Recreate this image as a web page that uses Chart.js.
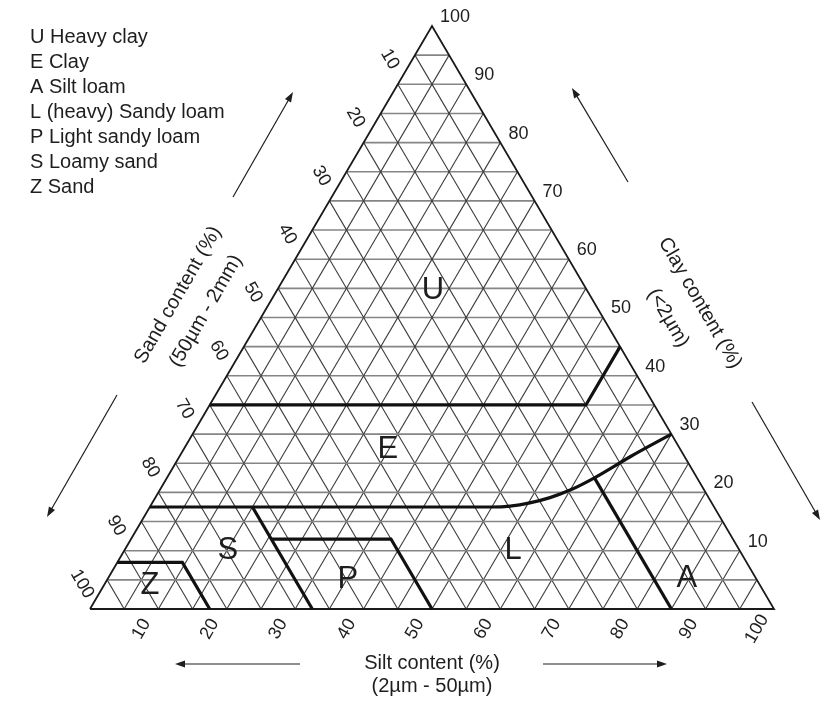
<!DOCTYPE html>
<html>
<head>
<meta charset="utf-8">
<script src="https://cdn.jsdelivr.net/npm/chart.js@4/dist/chart.umd.min.js"></script>
<style>
  body { margin: 0; background: #fff; }
</style>
</head>
<body>
<canvas id="soilChart" width="836" height="704"></canvas>
<script>
// grid every 5 %, labels every 10 %
const gridSteps = [5, 10, 15, 20, 25, 30, 35, 40, 45, 50, 55, 60, 65, 70, 75, 80, 85, 90, 95];
const tickValues = [10, 20, 30, 40, 50, 60, 70, 80, 90, 100];

const legendCodes = ['U', 'E', 'A', 'L', 'P', 'S', 'Z'];
const legendNames = ['Heavy clay', 'Clay', 'Silt loam', '(heavy) Sandy loam', 'Light sandy loam', 'Loamy sand', 'Sand'];

// class boundaries: clay % and silt % of each point
const heavyClayClay = [35, 35, 45];
const heavyClaySilt = [0, 55, 55];
const clayLoamClay = [17.5, 17.5, 17.65, 18.2, 19.1, 20.4, 22.5, 26.2, 30];
const clayLoamSilt = [0, 50, 52.6, 55.2, 57.7, 60.0, 62.5, 66.0, 70];
const loamSiltClay = [22.5, 0];
const loamSiltSilt = [62.5, 85];
const sandLoamClay = [17.5, 0];
const sandLoamSilt = [15, 32.5];
const lightLoamClay = [12, 12, 0];
const lightLoamSilt = [20.5, 38, 50];
const sandClay = [8, 8, 0];
const sandSilt = [0, 9.5, 17.5];

// where the class letters sit
const regionCodes = ['U', 'E', 'S', 'P', 'L', 'A', 'Z'];
const regionClay = [54.7, 27.3, 10.1, 5.0, 10.1, 5.3, 4.1];
const regionSilt = [22.8, 29.9, 15.1, 35.2, 56.8, 84.6, 6.7];

// ternary (clay, silt) -> chart value space
function tern(clay, silt) {
    return { x: silt + clay / 2, y: clay };
}

function lineSet(points, color, width, order, extra) {
    return Object.assign({
        data: points,
        showLine: true,
        borderColor: color,
        borderWidth: width,
        pointRadius: 0,
        fill: false,
        clip: false,
        order: order
    }, extra || {});
}

const datasets = [];

gridSteps.forEach(v => {
    datasets.push(lineSet([tern(v, 0), tern(v, 100 - v)], '#858585', 1.6, 3));
    datasets.push(lineSet([tern(0, v), tern(100 - v, v)], '#3c3c3c', 1.1, 3));
    datasets.push(lineSet([tern(0, 100 - v), tern(100 - v, 0)], '#3c3c3c', 1.1, 3));
});

datasets.push(lineSet([tern(0, 0), tern(0, 100), tern(100, 0), tern(0, 0)], '#1a1a1a', 1.8, 2));

const boundaries = [
    [heavyClayClay, heavyClaySilt],
    [loamSiltClay, loamSiltSilt],
    [sandLoamClay, sandLoamSilt],
    [lightLoamClay, lightLoamSilt],
    [sandClay, sandSilt]
];
boundaries.forEach(b => {
    datasets.push(lineSet(b[0].map((c, i) => tern(c, b[1][i])), '#111', 3.2, 1));
});
datasets.push(lineSet(clayLoamClay.map((c, i) => tern(c, clayLoamSilt[i])), '#111', 3.2, 1,
    { cubicInterpolationMode: 'monotone' }));

function drawText(ctx, text, x, y, angle, align) {
    ctx.save();
    ctx.translate(x, y);
    ctx.rotate(angle);
    ctx.textAlign = align || 'center';
    ctx.fillText(text, 0, 0);
    ctx.restore();
}

function drawArrow(ctx, x1, y1, x2, y2) {
    const a = Math.atan2(y2 - y1, x2 - x1);
    ctx.beginPath();
    ctx.moveTo(x1, y1);
    ctx.lineTo(x2 - 8 * Math.cos(a), y2 - 8 * Math.sin(a));
    ctx.stroke();
    ctx.beginPath();
    ctx.moveTo(x2, y2);
    ctx.lineTo(x2 - 10 * Math.cos(a) + 3.5 * Math.sin(a), y2 - 10 * Math.sin(a) - 3.5 * Math.cos(a));
    ctx.lineTo(x2 - 10 * Math.cos(a) - 3.5 * Math.sin(a), y2 - 10 * Math.sin(a) + 3.5 * Math.cos(a));
    ctx.closePath();
    ctx.fill();
}

const labelsPlugin = {
    id: 'soilLabels',
    afterDraw(chart) {
        const ctx = chart.ctx;
        const xs = chart.scales.x, ys = chart.scales.y;
        const px = (c, s) => {
            const p = tern(c, s);
            return [xs.getPixelForValue(p.x), ys.getPixelForValue(p.y)];
        };
        ctx.save();
        ctx.fillStyle = '#1e1e1e';
        ctx.strokeStyle = '#1e1e1e';
        ctx.textBaseline = 'middle';

        // tick labels
        ctx.font = '18px "Liberation Sans", Arial, sans-serif';
        tickValues.forEach(v => {
            let p = px(v, 100 - v);
            drawText(ctx, String(v), p[0] + 8, p[1] - 9, 0, 'left');
            p = px(100 - v, 0);
            drawText(ctx, String(v), p[0] - 8, p[1] - 25, Math.PI / 3);
            p = px(0, v);
            drawText(ctx, String(v), p[0] - 17, p[1] + 20, -Math.PI / 3);
        });

        // class letters
        ctx.font = '31px "Liberation Sans", Arial, sans-serif';
        regionCodes.forEach((t, i) => {
            const p = px(regionClay[i], regionSilt[i]);
            drawText(ctx, t, p[0], p[1], 0);
        });

        // axis titles
        ctx.font = '20px "Liberation Sans", Arial, sans-serif';
        drawText(ctx, 'Silt content (%)', 432, 663, 0);
        drawText(ctx, '(2µm - 50µm)', 432, 686, 0);
        drawText(ctx, 'Sand content (%)', 178, 295, -Math.PI / 3);
        drawText(ctx, '(50µm - 2mm)', 206, 311, -Math.PI / 3);
        drawText(ctx, 'Clay content (%)', 700, 303, Math.PI / 3);
        drawText(ctx, '(<2µm)', 668, 318, Math.PI / 3);

        // legend
        legendCodes.forEach((code, i) => {
            drawText(ctx, code + ' ' + legendNames[i], 30, 37 + i * 25, 0, 'left');
        });

        // direction arrows
        ctx.lineWidth = 1.2;
        drawArrow(ctx, 233, 197, 293, 92);
        drawArrow(ctx, 117, 395, 47, 517);
        drawArrow(ctx, 628, 182, 572, 88);
        drawArrow(ctx, 752, 402, 820, 520);
        drawArrow(ctx, 300, 664, 175, 664);
        drawArrow(ctx, 543, 664, 667, 664);
        ctx.restore();
    }
};

new Chart(document.getElementById('soilChart'), {
    type: 'scatter',
    data: { datasets: datasets },
    options: {
        responsive: false,
        animation: false,
        devicePixelRatio: 1,
        layout: { padding: { left: 90, right: 62, top: 26, bottom: 95 } },
        scales: {
            x: { type: 'linear', min: 0, max: 100, display: false },
            y: { type: 'linear', min: 0, max: 100, display: false }
        },
        plugins: {
            legend: { display: false },
            tooltip: { enabled: false }
        }
    },
    plugins: [labelsPlugin]
});
</script>
</body>
</html>
